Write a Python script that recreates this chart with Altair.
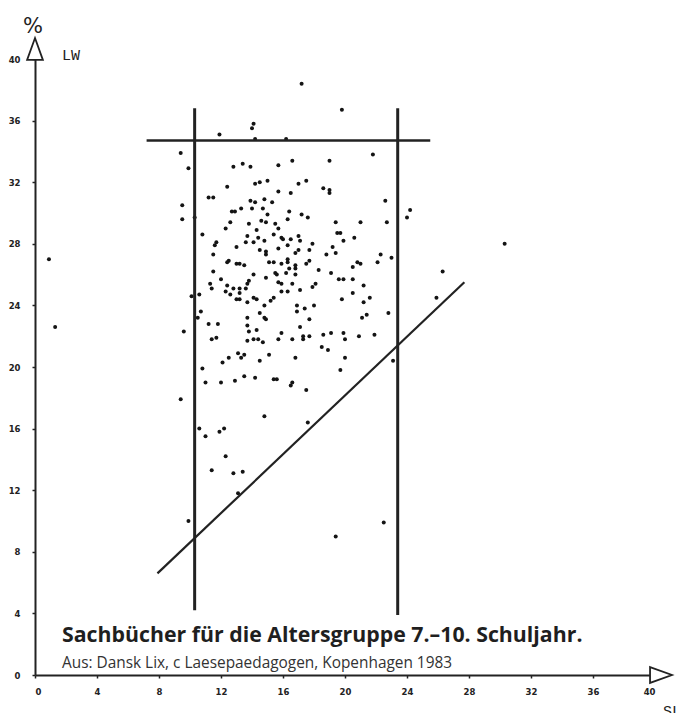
import altair as alt
import pandas as pd

# Satzlänge (SL) und Anteil langer Wörter (LW, %) je Sachbuch
sl = [
    0.9, 1.3, 17.2, 19.8, 30.3, 26.3, 25.9, 24.2, 24.0, 22.5, 19.4, 9.9, 9.4,
    10.6, 11.0, 11.9, 12.2, 12.3, 11.4, 12.8, 13.4, 13.1, 14.8, 17.6, 16.5, 16.6, 17.5,
    11.0, 12.0, 12.9, 13.5, 14.2, 15.4, 15.6,
    13.1, 13.5, 12.5, 12.1, 13.3, 15.1, 14.5, 16.8, 10.8,
    11.9, 14.1, 14.0, 14.2, 16.2, 9.4, 9.9, 12.8, 13.4, 13.9, 15.7, 16.6,
    12.4, 14.2, 14.5, 15.0, 15.7, 16.5, 17.0, 17.5, 11.2, 11.5, 9.5, 9.5, 10.3,
    13.9, 14.2, 14.8, 15.3, 14.0, 14.7, 12.7, 12.9, 13.3, 15.0, 16.4, 17.2,
    12.6, 13.8, 14.6, 14.9, 15.5, 16.3, 17.6, 12.3, 14.3, 15.7,
    19.0, 21.8, 18.6, 19.0, 19.0, 22.6, 19.4, 21.0, 22.7,
    10.8, 11.7, 11.6, 13.0, 13.7, 13.6, 14.1, 14.4, 14.8, 15.4, 15.9, 16.0, 16.5,
    17.0, 17.1, 14.5, 14.9, 14.9, 15.7, 16.3, 16.8, 17.0, 11.5, 12.5, 12.4, 13.0,
    13.2, 13.5, 15.1, 15.4, 15.9, 16.3, 16.3, 16.8, 17.5, 11.5, 14.1, 14.9, 15.5,
    15.6, 16.2, 16.4, 16.8, 16.8, 12.0, 11.3, 11.4, 12.4, 13.8, 13.7, 15.7, 15.9,
    16.6, 12.3, 12.6, 12.8, 13.2, 13.2, 13.6, 13.0, 13.2, 13.7, 14.1, 14.3, 14.8,
    15.2, 15.4, 15.9, 16.3, 17.1, 10.1, 10.6, 10.5, 10.7, 9.6, 11.2, 11.8, 13.7,
    14.5, 14.8, 14.9, 16.9, 16.9, 17.4, 17.1, 13.7, 13.8, 14.3, 15.9, 11.4, 11.7,
    13.7, 14.1, 14.4, 14.7, 15.7, 16.6, 17.3, 17.3,
    19.5, 19.7, 20.6, 19.9, 17.9, 17.7, 19.2, 18.8, 19.4, 22.3, 22.1, 23.0, 17.7,
    18.3, 19.1, 20.5, 20.8, 21.0, 19.6, 19.9, 20.5, 17.9, 18.1, 21.2, 20.5, 21.6,
    19.8, 21.2, 18.0, 22.8, 21.4, 21.1, 17.7, 18.6, 19.1, 19.9, 20.0, 20.9, 21.9,
    18.5, 18.9, 20.0, 23.1, 19.7, 17.7,
]
lw = [
    27.0, 22.6, 38.4, 36.7, 28.0, 26.2, 24.5, 30.2, 29.7, 9.9, 9.0, 10.0, 17.9,
    16.0, 15.5, 15.8, 16.0, 14.2, 13.3, 13.1, 13.2, 11.8, 16.8, 16.4, 18.8, 19.0, 18.5,
    19.0, 19.0, 19.1, 19.4, 19.3, 19.2, 19.2,
    20.9, 20.8, 20.6, 20.3, 20.6, 20.8, 20.4, 20.6, 19.9,
    35.1, 35.8, 35.5, 34.8, 34.8, 33.9, 32.9, 33.0, 33.2, 33.0, 33.1, 33.4,
    31.7, 31.9, 32.0, 32.1, 31.4, 31.3, 31.9, 32.1, 31.0, 31.0, 30.5, 29.6, 29.7,
    30.8, 30.7, 30.9, 30.7, 30.3, 30.3, 30.1, 30.1, 30.3, 29.9, 30.1, 29.9,
    29.4, 29.3, 29.5, 29.4, 29.3, 29.6, 29.7, 29.0, 28.9, 29.0,
    33.4, 33.8, 31.6, 31.5, 31.3, 30.8, 29.4, 29.4, 29.4,
    28.6, 28.1, 27.9, 27.8, 28.5, 28.1, 28.1, 28.4, 28.2, 28.6, 28.4, 28.3, 28.3,
    28.5, 28.2, 27.6, 27.5, 27.3, 27.7, 27.9, 27.4, 27.6, 27.3, 26.9, 26.8, 26.7,
    26.7, 26.6, 26.8, 26.8, 26.7, 26.8, 27.0, 26.6, 26.7, 26.2, 26.0, 25.8, 26.1,
    26.0, 26.1, 26.4, 26.4, 26.0, 25.7, 25.4, 25.1, 25.3, 25.6, 25.4, 25.5, 25.4,
    25.4, 24.9, 24.7, 25.1, 25.1, 24.8, 25.1, 24.4, 24.4, 24.2, 24.5, 24.4, 24.0,
    24.3, 24.5, 24.9, 24.9, 25.0, 24.6, 24.7, 23.2, 23.6, 22.3, 22.8, 22.8, 23.2,
    23.5, 23.2, 23.1, 24.0, 23.6, 23.8, 22.6, 22.7, 22.3, 22.4, 22.2, 21.8, 21.9,
    21.7, 21.8, 21.8, 21.6, 21.8, 21.8, 22.0, 21.8,
    28.7, 28.7, 28.4, 28.2, 28.0, 27.6, 27.8, 27.3, 27.4, 27.3, 26.8, 27.1, 26.9,
    26.3, 26.1, 26.5, 26.8, 26.7, 25.7, 25.7, 25.7, 25.2, 25.4, 25.3, 24.8, 24.5,
    24.4, 24.2, 24.0, 23.5, 23.4, 23.2, 23.1, 22.1, 22.2, 22.2, 21.8, 22.0, 22.1,
    21.3, 21.1, 20.6, 20.4, 19.8, 22.0,
]

# Grenzlinien des Normbereichs
bound_sl = [10.3, 23.4]
bound_lw_lo = [4.2, 3.9]
bound_lw_hi = [36.8, 36.8]
cap_lw = [34.7]
cap_sl_from = [7.2]
cap_sl_to = [25.5]
diag_sl = [7.9, 27.7]
diag_lw = [6.6, 25.5]

tick_values = list(range(0, 41, 4))

INK = "#222222"
xs = alt.Scale(domain=[0, 40], nice=False, zero=False)
ys = alt.Scale(domain=[0, 40], nice=False, zero=False)

pts_df = pd.DataFrame({"SL": sl, "LW": lw})
bounds_df = pd.DataFrame({"SL": bound_sl, "lo": bound_lw_lo, "hi": bound_lw_hi})
cap_df = pd.DataFrame({"LW": cap_lw, "a": cap_sl_from, "b": cap_sl_to})
diag_df = pd.DataFrame({"SL": diag_sl, "LW": diag_lw})

x_axis = alt.Axis(values=tick_values, title=None, grid=False, domainWidth=2,
                  domainColor=INK, tickColor=INK, tickSize=3, tickWidth=1.5,
                  labelFont="DejaVu Sans", labelFontWeight="bold", labelFontSize=8.5,
                  labelColor=INK, labelPadding=9)
y_axis = alt.Axis(values=tick_values, title=None, grid=False, domainWidth=2,
                  domainColor=INK, tickColor=INK, tickSize=3, tickWidth=1.5,
                  labelFont="DejaVu Sans", labelFontWeight="bold", labelFontSize=8.5,
                  labelColor=INK, labelPadding=12)

points = alt.Chart(pts_df).mark_circle(size=16, color="#141414", opacity=1).encode(
    x=alt.X("SL:Q", scale=xs, axis=x_axis),
    y=alt.Y("LW:Q", scale=ys, axis=y_axis),
)

verticals = alt.Chart(bounds_df).mark_rule(color=INK, strokeWidth=3).encode(
    x=alt.X("SL:Q", scale=xs), y=alt.Y("lo:Q", scale=ys), y2="hi:Q"
)

cap = alt.Chart(cap_df).mark_rule(color=INK, strokeWidth=2.5).encode(
    y=alt.Y("LW:Q", scale=ys), x=alt.X("a:Q", scale=xs), x2="b:Q"
)

diag = alt.Chart(diag_df).mark_line(color=INK, strokeWidth=2.2).encode(
    x=alt.X("SL:Q", scale=xs), y=alt.Y("LW:Q", scale=ys)
)

# Pfeilspitzen an den Achsenenden
up_arrow = alt.Chart(pd.DataFrame({"SL": [0], "LW": [40]})).mark_point(
    shape="M0,-1L0.72,1L-0.72,1Z", size=480, filled=True, fill="white",
    stroke=INK, strokeWidth=1.8, opacity=1, yOffset=-10,
).encode(x=alt.X("SL:Q", scale=xs), y=alt.Y("LW:Q", scale=ys))

right_arrow = alt.Chart(pd.DataFrame({"SL": [40], "LW": [0]})).mark_point(
    shape="M-1,-0.72L1,0L-1,0.72Z", size=480, filled=True, fill="white",
    stroke=INK, strokeWidth=1.8, opacity=1, xOffset=6,
).encode(x=alt.X("SL:Q", scale=xs), y=alt.Y("LW:Q", scale=ys))

pct = alt.Chart(pd.DataFrame({"t": ["%"]})).mark_text(
    font="DejaVu Sans", fontSize=21, color=INK, align="center", baseline="middle"
).encode(x=alt.value(-2), y=alt.value(-32), text="t:N")

lw_label = alt.Chart(pd.DataFrame({"t": ["LW"]})).mark_text(
    font="Liberation Mono", fontSize=15, color=INK, align="left", baseline="middle"
).encode(x=alt.value(27), y=alt.value(-4), text="t:N")

sl_label = alt.Chart(pd.DataFrame({"t": ["SL"]})).mark_text(
    font="Liberation Mono", fontSize=15, color=INK, align="left", baseline="top"
).encode(x=alt.value(628), y=alt.value(645), text="t:N")

title = alt.Chart(pd.DataFrame({"t": ["Sachbücher für die Altersgruppe 7.–10. Schuljahr."]})).mark_text(
    font="Open Sans", fontSize=21.3, fontWeight="bold", color="#1f1f1f",
    align="left", baseline="alphabetic"
).encode(x=alt.value(27), y=alt.value(583), text="t:N")

subtitle = alt.Chart(pd.DataFrame({"t": ["Aus: Dansk Lix, c Laesepaedagogen, Kopenhagen 1983"]})).mark_text(
    font="Open Sans", fontSize=15.4, color="#333333", align="left", baseline="alphabetic"
).encode(x=alt.value(27), y=alt.value(609), text="t:N")

chart = alt.layer(
    points, verticals, cap, diag, up_arrow, right_arrow,
    pct, lw_label, sl_label, title, subtitle,
).properties(
    width=620, height=616,
    autosize=alt.AutoSizeParams(type="none"),
    padding={"left": 35, "top": 59, "right": 26, "bottom": 38},
    background="white",
).configure_view(stroke=None)

chart.save("out.html", embed_options={"renderer": "svg", "actions": False})
